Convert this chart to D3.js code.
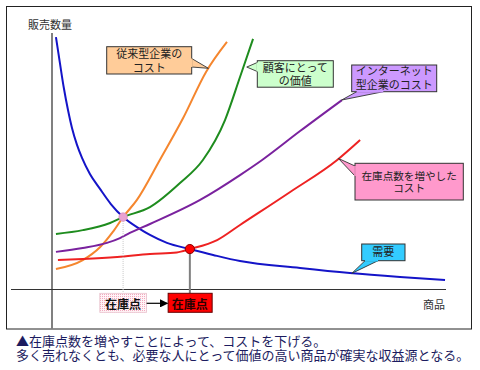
<!DOCTYPE html>
<html><head><meta charset="utf-8">
<script src="https://cdn.jsdelivr.net/npm/d3@7"></script>
<style>
@font-face{font-family:"TightSpace";src:local("Liberation Sans");unicode-range:U+0020;}
body{margin:0;background:#fff}
#wrap{position:relative;width:480px;height:370px}
svg{display:block;position:absolute;left:0;top:0}
text{font-family:"Noto Sans CJK JP","Noto Sans",sans-serif}
.lbl{font-family:"TightSpace","Noto Sans CJK JP",sans-serif;position:absolute;white-space:nowrap;margin:0;padding:0}
</style>
</head><body>
<div id="wrap"><svg id="c" width="480" height="370"></svg></div>
<script>
// ---- data (abstract units: x = 商品, y = 販売数量) ----
const demand   = [[1.0,98.4],[2.0,88.3],[3.0,78.5],[4.05,69.9],[5.06,62.9],[6.33,56.3],[7.6,51.2],[9.6,44.9],[12.15,39.1],[14.9,33.2],[18.0,28.1],[22.3,23.4],[24.8,21.1],[29.1,18.0],[34.9,15.6],[40.8,13.3],[47.6,10.9],[62.8,8.2],[75.4,6.25],[88.1,4.7],[99.5,3.5]];
const tradCost = [[1.0,7.8],[7.8,11.3],[12.2,16.4],[15.4,22.3],[18.0,28.1],[21.5,34.8],[27.3,50.4],[33.2,66.8],[39.0,84.8],[44.3,96.5]];
const value    = [[1.0,21.5],[7.8,23.0],[14.7,25.8],[18.0,28.1],[24.8,32.0],[32.4,41.4],[38.2,50.4],[43.8,66.0],[47.6,82.8],[50.9,97.7]];
const netCost  = [[1.0,14.5],[7.8,16.0],[13.9,18.0],[17.2,19.9],[19.7,21.9],[24.8,25.4],[37.5,34.8],[47.6,44.5],[53.2,50.4],[62.8,61.7],[73.4,73.8]];
const moreCost = [[1.5,11.3],[7.8,11.7],[16.5,12.5],[24.8,13.7],[31.6,14.3],[34.9,15.6],[41.8,19.1],[47.6,25.0],[60.3,37.9],[72.2,50.4],[78.0,58.2]];
const pointsOfInterest = [[18.0,28.1],[34.9,15.6]];   // 在庫点 (old) , 在庫点 (new)
const calloutTips = [[39.6,86.2],[49.3,86.7],[73.3,73.8],[72.5,51.0],[75.9,6.1]];
const calloutTexts = [["従来型企業の","コスト"],["顧客にとって","の価値"],["インターネット","型企業のコスト"],["在庫点数を増やした","コスト"],["需要"]];
const axisTitles = ["販売数量","商品"];
const pointLabels = ["在庫点","在庫点"];
const captionLines = ["▲在庫点数を増やすことによって、コストを下げる。","多く売れなくとも、必要な人にとって価値の高い商品が確実な収益源となる。"];

// ---- styles / layout ----
const seriesList = [
  {d:demand,   color:"#1414C8"},
  {d:tradCost, color:"#F5862E"},
  {d:value,    color:"#1E8C1E"},
  {d:netCost,  color:"#7A229E"},
  {d:moreCost, color:"#EE2222"}
];
const calloutStyle = [
  {fill:"#FFCC99", box:[106.7,46.7,85,27.3], base:[[191.7,58.5],[191.7,67]], y0:55, dy:13.5, fs:11},
  {fill:"#CCFFCC", box:[257.3,60.7,76,26.5], base:[[257.3,62.5],[257.3,71.5]], y0:68.3, dy:12.7, fs:11},
  {fill:"#CC99FF", box:[351.7,65,85,26.7], base:[[356.7,91.7],[383.3,91.7]], y0:72, dy:13.5, fs:11},
  {fill:"#FF99CC", box:[355,163.3,108.3,36.7], base:[[355,166],[355,176]], y0:176, dy:12.5, fs:10.6},
  {fill:"#33CCFF", box:[361.7,244,43.3,16.7], base:[[365,260.7],[378,260.7]], y0:252.3, dy:14, fs:11}
];

const svg = d3.select("#c");
const wrap = d3.select("#wrap");
const x = d3.scaleLinear().domain([0,100]).range([52,447]);
const y = d3.scaleLinear().domain([0,100]).range([289,33]);

// frame
svg.append("rect").attr("x",6.5).attr("y",6.5).attr("width",465).attr("height",322.5)
  .attr("fill","#fff").attr("stroke","#222").attr("stroke-width",1);

// pattern for pink label
const defs = svg.append("defs");
const pat = defs.append("pattern").attr("id","dots").attr("width",2).attr("height",2).attr("patternUnits","userSpaceOnUse");
pat.append("rect").attr("width",2).attr("height",2).attr("fill","#FFF4F7");
pat.append("rect").attr("width",1).attr("height",1).attr("fill","#F2A9BE");
defs.append("marker").attr("id","arr").attr("viewBox","0 0 10 10").attr("refX",9).attr("refY",5)
  .attr("markerWidth",7).attr("markerHeight",7).attr("orient","auto")
  .append("path").attr("d","M0,0L10,5L0,10z").attr("fill","#000");

// axes
svg.append("line").attr("x1",x(0)).attr("x2",x(0)).attr("y1",33).attr("y2",329)
  .attr("stroke","#808080").attr("stroke-width",2);
svg.append("line").attr("x1",11).attr("x2",x(100)-1).attr("y1",y(0)+0.5).attr("y2",y(0)+0.5)
  .attr("stroke","#333").attr("stroke-width",1);
svg.append("text").attr("x",28).attr("y",24).attr("dominant-baseline","central")
  .attr("font-size",11).attr("fill","#333").text(axisTitles[0]);
svg.append("text").attr("x",445).attr("y",303.5).attr("text-anchor","end").attr("dominant-baseline","central")
  .attr("font-size",11).attr("fill","#333").text(axisTitles[1]);

// curves
const line = d3.line().x(d=>x(d[0])).y(d=>y(d[1])).curve(d3.curveMonotoneX);
svg.selectAll("path.s").data(seriesList).join("path").attr("class","s")
  .attr("d",s=>line(s.d)).attr("fill","none").attr("stroke",s=>s.color).attr("stroke-width",2);

// drop lines
const p0 = pointsOfInterest[0], p1 = pointsOfInterest[1];
svg.append("line").attr("x1",x(p0[0])).attr("x2",x(p0[0])).attr("y1",y(p0[1])+4).attr("y2",293)
  .attr("stroke","#C8C8C8").attr("stroke-width",1).attr("stroke-dasharray","1,1");
svg.append("line").attr("x1",x(p1[0])).attr("x2",x(p1[0])).attr("y1",y(p1[1])+4).attr("y2",293)
  .attr("stroke","#808080").attr("stroke-width",2);

// points
svg.append("circle").attr("cx",x(p0[0])).attr("cy",y(p0[1])).attr("r",4.2)
  .attr("fill","#E8A2D2").attr("stroke","#D890C0").attr("stroke-width",0.8);
svg.append("circle").attr("cx",x(p1[0])).attr("cy",y(p1[1])).attr("r",4.6)
  .attr("fill","#FF0000").attr("stroke","#8B0000").attr("stroke-width",1);

// point labels
svg.append("rect").attr("x",x(p0[0])-23.3).attr("y",293.3).attr("width",46.7).attr("height",19)
  .attr("fill","url(#dots)").attr("stroke","#E8C0CC").attr("stroke-width",0.8);
svg.append("text").attr("x",x(p0[0])).attr("y",303).attr("text-anchor","middle").attr("dominant-baseline","central")
  .attr("font-size",12).attr("font-weight","bold").attr("fill","#111").text(pointLabels[0]);
svg.append("rect").attr("x",x(p1[0])-21.7).attr("y",293.3).attr("width",44).attr("height",19)
  .attr("fill","#FF0000").attr("stroke","#660000").attr("stroke-width",1);
svg.append("text").attr("x",x(p1[0])).attr("y",303).attr("text-anchor","middle").attr("dominant-baseline","central")
  .attr("font-size",12).attr("font-weight","bold").attr("fill","#2a0000").text(pointLabels[1]);
svg.append("line").attr("x1",x(p0[0])+23.5).attr("x2",x(p1[0])-22.5).attr("y1",303.3).attr("y2",303.3)
  .attr("stroke","#000").attr("stroke-width",1.2).attr("marker-end","url(#arr)");

// callouts
calloutStyle.forEach((c,i)=>{
  const t = calloutTips[i];
  const tip = [x(t[0]), y(t[1])];
  const g = svg.append("g");
  g.append("path").attr("d",`M${c.base[0][0]},${c.base[0][1]}L${tip[0]},${tip[1]}L${c.base[1][0]},${c.base[1][1]}`)
    .attr("fill",c.fill).attr("stroke","#333").attr("stroke-width",0.9);
  g.append("rect").attr("x",c.box[0]).attr("y",c.box[1]).attr("width",c.box[2]).attr("height",c.box[3])
    .attr("fill",c.fill).attr("stroke","#333").attr("stroke-width",1);
  g.append("line").attr("x1",c.base[0][0]).attr("y1",c.base[0][1]).attr("x2",c.base[1][0]).attr("y2",c.base[1][1])
    .attr("stroke",c.fill).attr("stroke-width",1.6);
  calloutTexts[i].forEach((s,j)=>{
    wrap.append("div").attr("class","lbl")
      .style("left",c.box[0]+"px").style("width",c.box[2]+"px").style("text-align","center")
      .style("top",(c.y0+j*c.dy-c.dy/2)+"px").style("height",c.dy+"px")
      .style("line-height",c.dy+"px").style("font-size",c.fs+"px").style("color","#222")
      .text(s);
  });
});

// caption
captionLines.forEach((s,j)=>{
  wrap.append("div").attr("class","lbl")
    .style("left","16px").style("top",(342+j*14.7-7.35)+"px").style("height","14.7px")
    .style("line-height","14.7px").style("font-size","13px").style("color","#1C1C60")
    .text(s);
});
</script>
</body></html>
